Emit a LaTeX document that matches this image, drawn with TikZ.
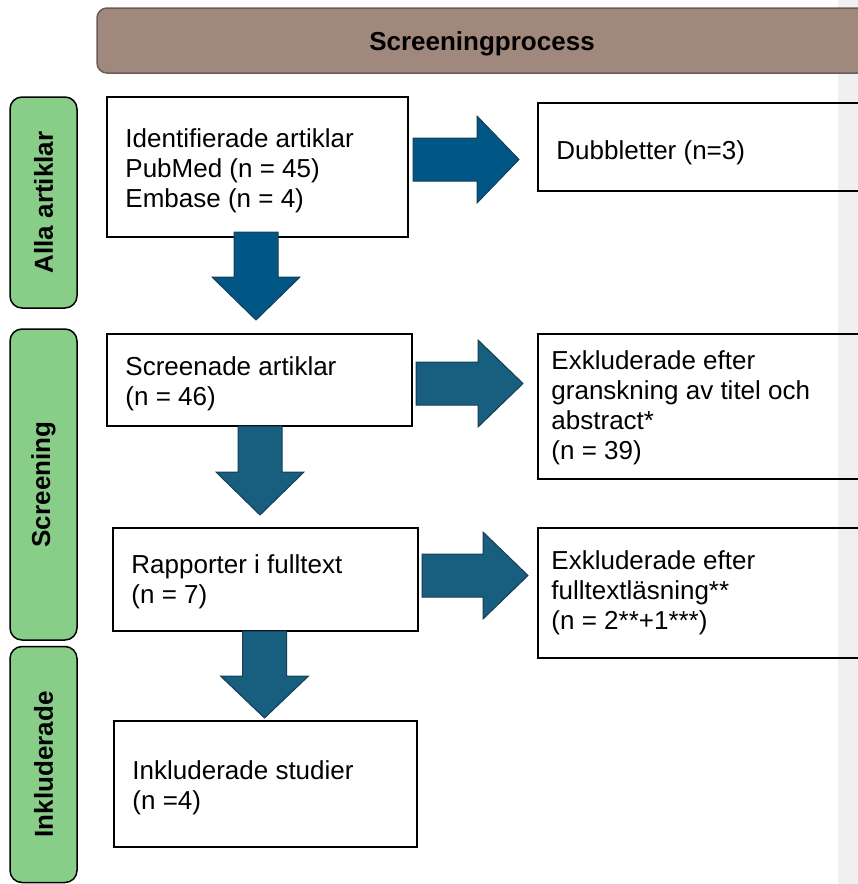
\documentclass[tikz,border=0pt]{standalone}
\usepackage{fontspec}
\setmainfont{Liberation Sans}
\definecolor{bannerfill}{HTML}{A1887D}
\definecolor{bannerline}{HTML}{6B5B55}
\definecolor{labelgreen}{HTML}{88CE88}
\definecolor{arrowA}{HTML}{005785}
\definecolor{arrowB}{HTML}{175E7F}
\definecolor{arrowline}{HTML}{163D55}
\definecolor{strip}{HTML}{F0F0F0}
\tikzset{
  stagebox/.style={draw=black, line width=1.5pt, inner sep=0pt},
  boxtext/.style={font=\fontsize{26}{30}\selectfont, align=left, inner sep=0pt, anchor=west},
  phase/.style={draw=black, line width=1.5pt, fill=labelgreen, rounded corners=12pt,
    rotate=90, font=\bfseries\fontsize{26}{30}\selectfont, inner sep=0pt},
  blockarrow/.style={draw=arrowline, line width=1pt, line join=miter},
}
\newcommand\rblock[5]{% x0, x1 (head start), x2 (tip), yc, colour
  \filldraw[blockarrow, fill=#5] ({#1},{#4-21.5}) -- ({#2},{#4-21.5}) -- ({#2},{#4-43.5})
    -- ({#3},{#4}) -- ({#2},{#4+43.5}) -- ({#2},{#4+21.5}) -- ({#1},{#4+21.5}) -- cycle;}
\newcommand\dblock[5]{% y0, y1 (head start), y2 (tip), xc, colour
  \filldraw[blockarrow, fill=#5] ({#4-22},{#1}) -- ({#4-22},{#2}) -- ({#4-44},{#2})
    -- ({#4},{#3}) -- ({#4+44},{#2}) -- ({#4+22},{#2}) -- ({#4+22},{#1}) -- cycle;}
\begin{document}
\begin{tikzpicture}[x=1pt,y=-1pt]
\clip (0,0) rectangle (858,884);
\fill[strip] (838,0) rectangle (858,884);

% banner
\node[draw=bannerline, line width=1.5pt, fill=bannerfill, rounded corners=10pt,
  minimum width=770pt, minimum height=65pt, inner sep=0pt] (banner) at (482,40.5) {};
\node[font=\bfseries\fontsize{26}{30}\selectfont, inner sep=0pt] (bannerT)
  at ([yshift=-3pt]banner.center) {Screeningprocess};

% phase labels
\node[phase, minimum width=211pt, minimum height=67pt] (alla) at (43.5,202.5) {Alla artiklar};
\node[phase, minimum width=311pt, minimum height=67pt] (screen) at (43.5,484.5) {Screening};
\node[phase, minimum width=236pt, minimum height=67pt] (inkl) at (43.5,764.5) {Inkluderade};

% left column boxes
\node[stagebox, minimum width=301pt, minimum height=140pt] (ident) at (257.5,167) {};
\node[boxtext] (identT) at ([xshift=19pt,yshift=-4pt]ident.west)
  {Identifierade artiklar\\PubMed (n = 45)\\Embase (n = 4)};
\node[stagebox, minimum width=305pt, minimum height=92pt] (scr) at (259.5,380) {};
\node[boxtext] (scrT) at ([xshift=19pt,yshift=-4pt]scr.west) {Screenade artiklar\\(n = 46)};
\node[stagebox, minimum width=305pt, minimum height=103pt] (rapp) at (265.5,579.5) {};
\node[boxtext] (rappT) at ([xshift=19pt,yshift=-2.5pt]rapp.west) {Rapporter i fulltext\\(n = 7)};
\node[stagebox, minimum width=303pt, minimum height=126pt] (inc) at (265.5,784) {};
\node[boxtext] (incT) at ([xshift=19pt,yshift=-4pt]inc.west) {Inkluderade studier\\(n =4)};

% right column boxes (extend beyond the right edge)
\node[stagebox, minimum width=342pt, minimum height=88pt] (dub) at (709,147) {};
\node[boxtext] (dubT) at ([xshift=19pt,yshift=-6pt]dub.west) {Dubbletter (n=3)};
\node[stagebox, minimum width=342pt, minimum height=145pt] (ex1) at (709,406.5) {};
\node[boxtext] (ex1T) at ([xshift=14pt,yshift=-1pt]ex1.west)
  {Exkluderade efter\\granskning av titel och\\abstract*\\(n = 39)};
\node[stagebox, minimum width=342pt, minimum height=130pt] (ex2) at (709,593) {};
\node[boxtext] (ex2T) at ([xshift=14pt,yshift=0pt]ex2.west)
  {Exkluderade efter\\fulltextläsning**\\(n = 2**+1***)};

% block arrows
\rblock{413}{477}{519}{159.5}{arrowA}
\dblock{232}{277}{320}{256}{arrowA}
\rblock{416}{478}{523}{383.5}{arrowB}
\dblock{426}{472}{515}{260}{arrowB}
\rblock{422}{483}{528}{575.5}{arrowB}
\dblock{631}{676}{718}{264.5}{arrowB}
\end{tikzpicture}
\end{document}
